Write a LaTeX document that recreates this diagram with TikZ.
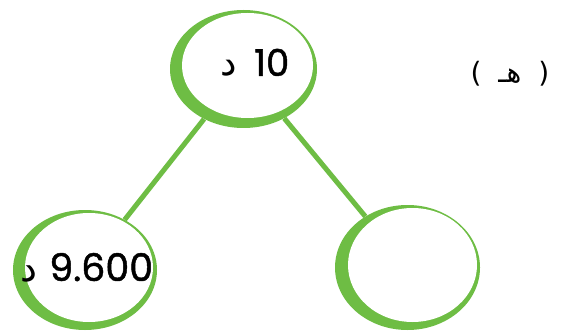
\documentclass[tikz,border=0pt]{standalone}
\usepackage{fontspec}
\usetikzlibrary{shapes.geometric}
\TeXXeTstate=1
\newfontfamily\arabicfont[Script=Arabic]{DejaVu Sans}
\newfontfamily\parenfont{DejaVu Sans}
\newfontfamily\digitfont[FakeBold=1.2]{Poppins}
\definecolor{ringgreen}{RGB}{110,189,68}
\tikzset{
  ring/.style n args={6}{ellipse, fill=ringgreen, inner sep=0pt,
    minimum width=#1, minimum height=#2,
    path picture={\fill[white] ([xshift=#5,yshift=#6]path picture bounding box.center)
      ellipse [x radius=#3, y radius=#4];}},
  link/.style={draw=ringgreen, line width=5pt},
  valtext/.style={anchor=base, inner sep=0pt, text=black}
}
\begin{document}
\begin{tikzpicture}[x=1pt,y=-1pt]
\useasboundingbox[fill=white] (0,0) rectangle (561,331);
\node[ring={147pt}{118pt}{65.5pt}{52.5pt}{4pt}{3.5pt}] (top) at (243.5,69) {};
\node[ring={144pt}{120pt}{64pt}{54.5pt}{4pt}{2.5pt}] (bl) at (85,270) {};
\node[ring={145pt}{125pt}{64.5pt}{57pt}{5pt}{2.5pt}] (br) at (407.5,267.5) {};
\draw[link] (top) -- (bl);
\draw[link] (top) -- (br);
\node[valtext] (topval) at (255,76) {\fontsize{37}{37}\selectfont\beginR\beginL{\digitfont 10}\endL\hspace{17pt}{\arabicfont د}\endR};
\node[valtext] (blval) at (87,281) {\fontsize{38}{38}\selectfont\beginR\beginL{\digitfont 9.600}\endL\ {\arabicfont د}\endR};
\node[valtext] (tag) at (510,83) {\fontsize{28}{28}\selectfont{\parenfont (}\ \ {\arabicfont هـ}\ \ {\parenfont )}};
\end{tikzpicture}
\end{document}
